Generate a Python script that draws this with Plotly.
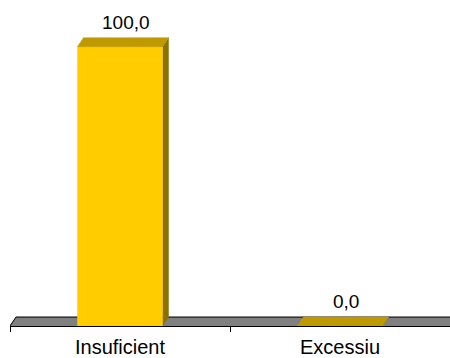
import plotly.graph_objects as go

# Data
categories = ["Insuficient", "Excessiu"]
values = [100.0, 0.0]

# Layout geometry (pixels) and styling
FONT = "Liberation Sans, Arial, sans-serif"
W, H = 450, 358
M_L, M_R, M_T, M_B = 10, 0, 0, 29
X_RANGE = [-0.5, len(categories) - 0.5]
Y_MAX = 116.7
plot_w = W - M_L - M_R
plot_h = H - M_T - M_B
px_per_x = plot_w / (X_RANGE[1] - X_RANGE[0])
px_per_y = plot_h / Y_MAX

DEPTH_X = 6 / px_per_x      # 3-D depth offset, converted to data units
DEPTH_Y = 9 / px_per_y
BAR_W = 85 / px_per_x

FRONT = "#FFCC00"
TOP = "#BF9900"
SIDE = "#8C7000"
FLOOR = "#808080"

fig = go.Figure()


def poly(xs, ys, color):
    fig.add_trace(go.Scatter(
        x=xs + [xs[0]], y=ys + [ys[0]], mode="lines", fill="toself",
        fillcolor=color, line=dict(color=color, width=0.5),
        hoverinfo="skip", showlegend=False))


# Floor of the 3-D chart
x0, x1 = X_RANGE
poly([x0, x1, x1, x0 + DEPTH_X], [0, 0, DEPTH_Y, DEPTH_Y], FLOOR)
fig.add_trace(go.Scatter(
    x=[x0, x0 + DEPTH_X, x1], y=[0, DEPTH_Y, DEPTH_Y], mode="lines",
    line=dict(color="#000000", width=1), hoverinfo="skip", showlegend=False))

# Bars: front face, top face and right side face
for i, v in enumerate(values):
    left, right = i - BAR_W / 2, i + BAR_W / 2
    poly([right, right + DEPTH_X, right + DEPTH_X, right],
         [0, DEPTH_Y, v + DEPTH_Y, v], SIDE)
    poly([left, right, right, left], [0, 0, v, v], FRONT)
    poly([left, right, right + DEPTH_X, left + DEPTH_X],
         [v, v, v + DEPTH_Y, v + DEPTH_Y], TOP)
    fig.add_annotation(
        x=i + DEPTH_X, y=v + DEPTH_Y, text=f"{v:.1f}".replace(".", ","),
        showarrow=False, yanchor="bottom", yshift=3,
        font=dict(family=FONT, size=19, color="#000000"))

# Category-boundary tick marks
boundaries = [k - 0.5 for k in range(len(categories) + 1)]

fig.update_layout(
    width=W, height=H,
    margin=dict(l=M_L, r=M_R, t=M_T, b=M_B),
    paper_bgcolor="#FFFFFF", plot_bgcolor="#FFFFFF",
    showlegend=False,
    xaxis=dict(
        range=X_RANGE, tickmode="array", tickvals=list(range(len(categories))),
        ticktext=categories, ticks="", showgrid=False, zeroline=False,
        showline=True, linecolor="#000000", linewidth=1,
        ticklabelstandoff=3,
        tickfont=dict(family=FONT, size=20, color="#000000"),
        minor=dict(tickmode="array", tickvals=boundaries, ticks="outside",
                   ticklen=5, tickcolor="#000000", tickwidth=1, showgrid=False),
        fixedrange=True),
    yaxis=dict(range=[0, Y_MAX], visible=False, fixedrange=True),
)

fig.write_html("out.html")
